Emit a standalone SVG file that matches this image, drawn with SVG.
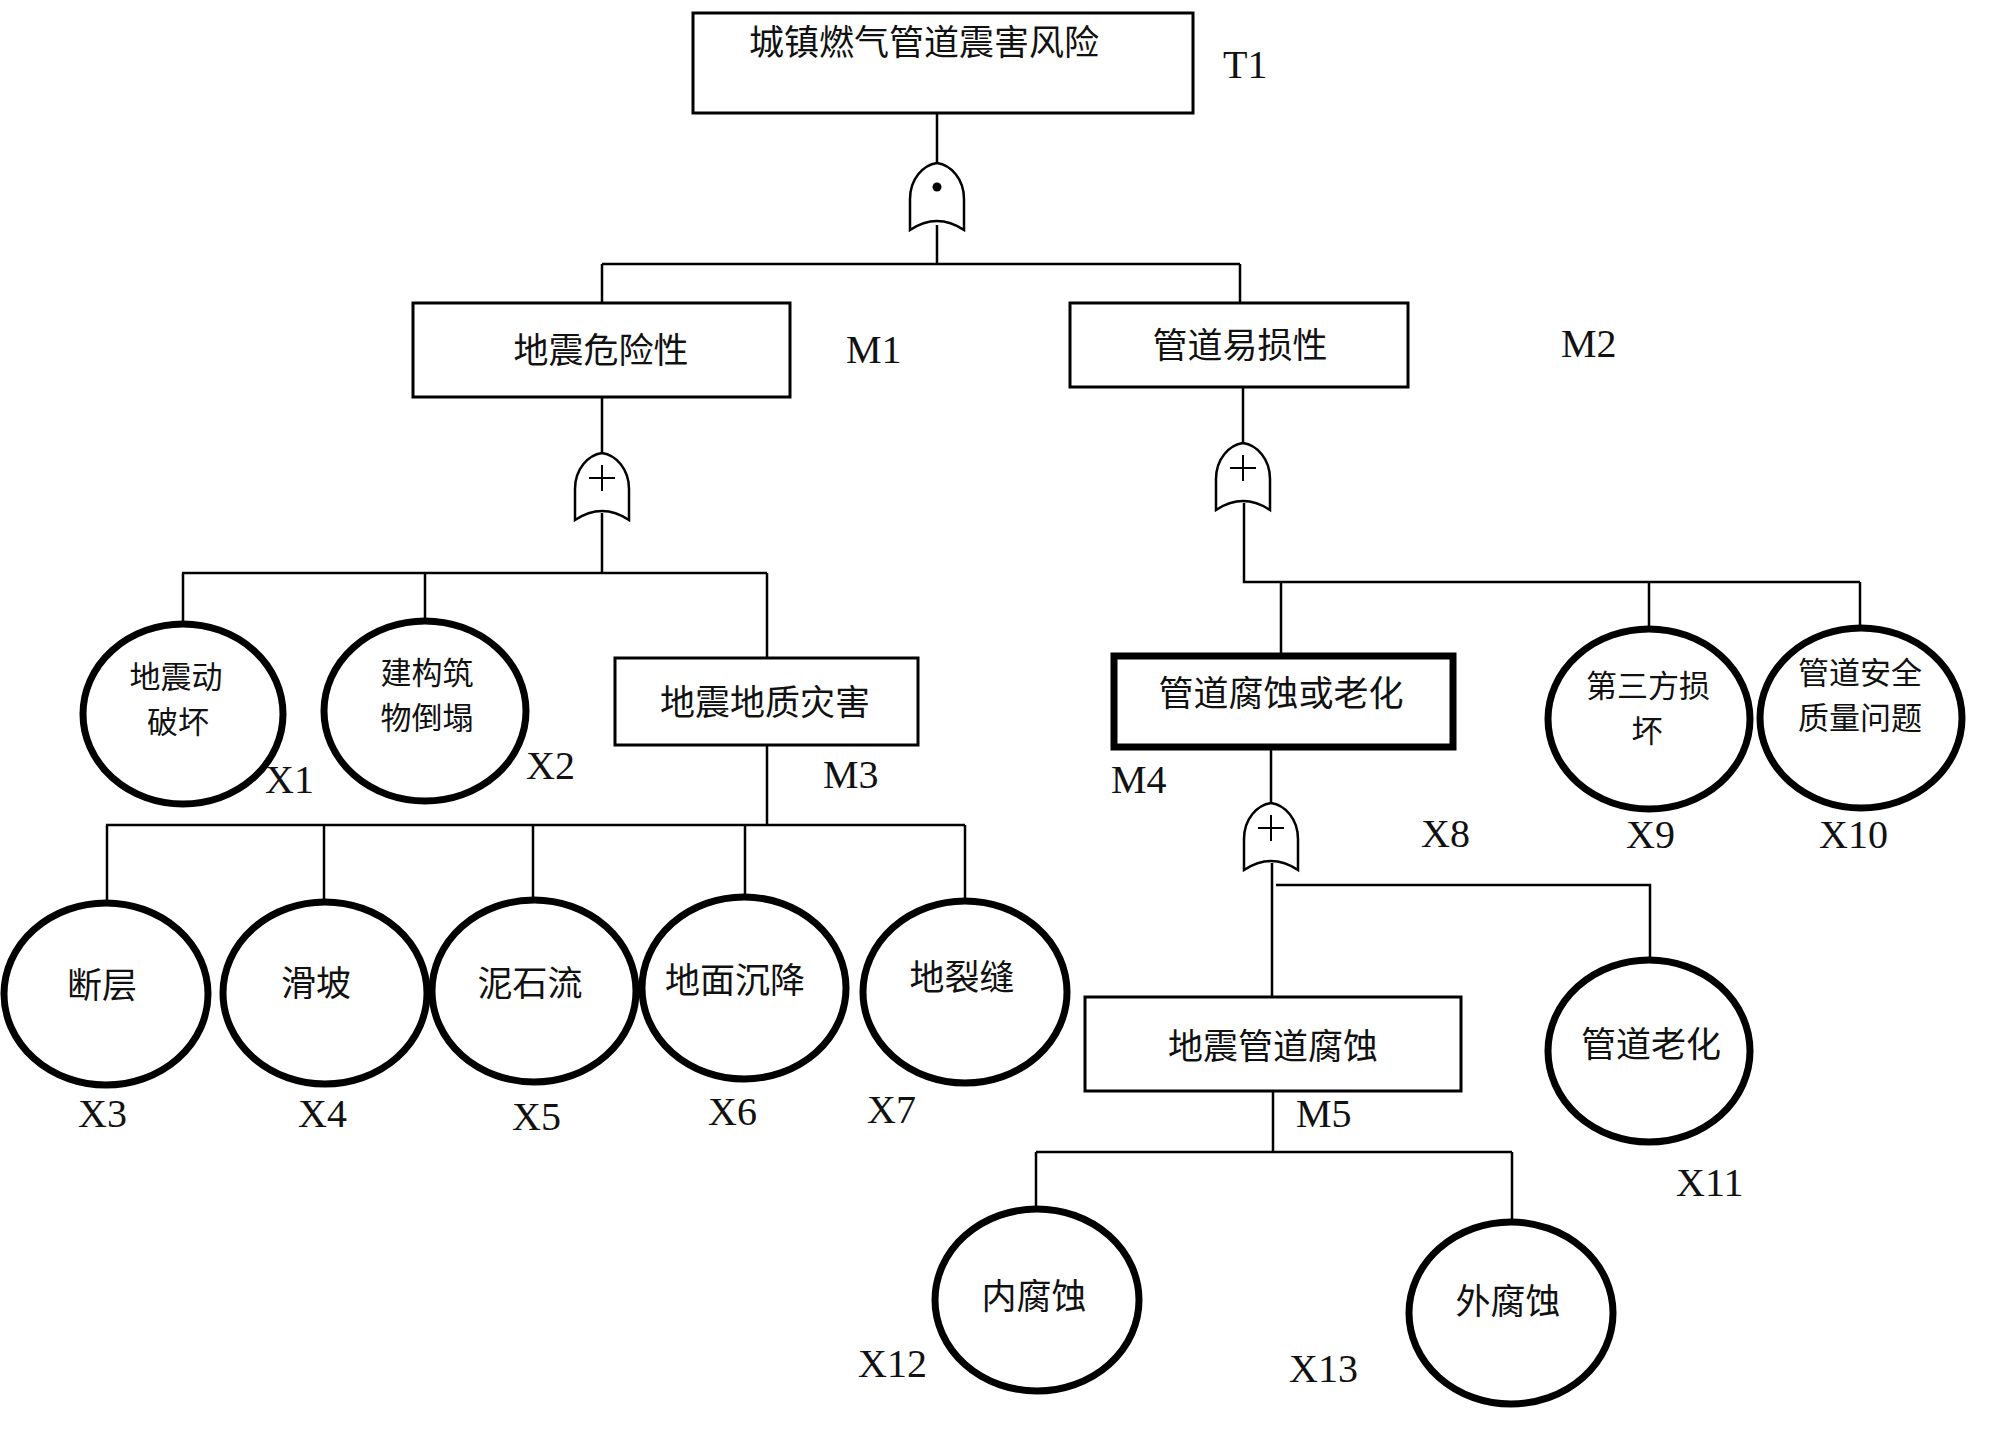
<svg xmlns="http://www.w3.org/2000/svg" width="2000" height="1429" viewBox="0 0 2000 1429">
<style>
.box{fill:#fff;stroke:#000;stroke-width:3}
.thick{fill:#fff;stroke:#000;stroke-width:7}
.ev{fill:#fff;stroke:#000;stroke-width:7}
.ln{fill:none;stroke:#000;stroke-width:2.5}
.gate{fill:#fff;stroke:#000;stroke-width:2.5}
.cn{font-family:"Noto Sans CJK SC","Noto Sans CJK JP",sans-serif;font-size:35px;text-anchor:middle;fill:#111}
.cn2{font-family:"Noto Sans CJK SC","Noto Sans CJK JP",sans-serif;font-size:31px;text-anchor:middle;fill:#111}
.lb{font-family:"Liberation Serif","Times New Roman",serif;font-size:40px;fill:#111}
</style>
<defs>
<path id="g" d="M -27,67 L -27,36 C -27,16 -14,2 0,0 C 14,2 27,16 27,36 L 27,67 Q 0,49 -27,67 Z"/>
<g id="plus"><path d="M -13,25 H 13 M 0,12 V 38" fill="none" stroke="#000" stroke-width="2"/></g>
</defs>
<rect width="2000" height="1429" fill="#fff"/>
<g id="connectors">
<path class="ln" d="M 937,113 V 163 M 937,225 V 264 M 602,264 H 1240 M 602,264 V 303 M 1240,264 V 303"/>
<path class="ln" d="M 602,397 V 453 M 602,513 V 573 M 182,573 H 767 M 183,573 V 623 M 425,573 V 620 M 767,573 V 658"/>
<path class="ln" d="M 767,745 V 825 M 106,825 H 965 M 107,825 V 903 M 324,825 V 902 M 533,825 V 899 M 745,825 V 896 M 965,825 V 900"/>
<path class="ln" d="M 1243,387 V 443 M 1244,503 V 582 H 1860 M 1281,582 V 655 M 1649,582 V 628 M 1860,582 V 628"/>
<path class="ln" d="M 1271,748 V 803 M 1272,863 V 997 M 1276,885 H 1650 V 960"/>
<path class="ln" d="M 1273,1091 V 1152 M 1036,1152 H 1512 M 1036,1152 V 1210 M 1512,1152 V 1222"/>
</g>
<g id="gate-T1"><use href="#g" class="gate" x="937" y="163"/><circle cx="937" cy="187" r="4.5" fill="#000"/></g>
<g id="gate-M1"><use href="#g" class="gate" x="602" y="453"/><use href="#plus" x="602" y="453"/></g>
<g id="gate-M2"><use href="#g" class="gate" x="1243" y="443"/><use href="#plus" x="1243" y="443"/></g>
<g id="gate-M4"><use href="#g" class="gate" x="1271" y="803"/><use href="#plus" x="1271" y="803"/></g>

<g id="T1"><rect class="box" x="693" y="13" width="500" height="100"/><text class="cn" x="924" y="55">城镇燃气管道震害风险</text><text class="lb" x="1223" y="78">T1</text></g>
<g id="M1"><rect class="box" x="413" y="303" width="377" height="94"/><text class="cn" x="601" y="363">地震危险性</text><text class="lb" x="846" y="363">M1</text></g>
<g id="M2"><rect class="box" x="1070" y="303" width="338" height="84"/><text class="cn" x="1240" y="358">管道易损性</text><text class="lb" x="1561" y="357">M2</text></g>
<g id="X1"><ellipse class="ev" cx="183" cy="714" rx="100" ry="90"/><text class="cn2"><tspan x="176" y="688">地震动</tspan><tspan x="178" y="733">破坏</tspan></text><text class="lb" x="265" y="793">X1</text></g>
<g id="X2"><ellipse class="ev" cx="425" cy="711" rx="101" ry="90"/><text class="cn2"><tspan x="427" y="684">建构筑</tspan><tspan x="427" y="729">物倒塌</tspan></text><text class="lb" x="526" y="779">X2</text></g>
<g id="M3"><rect class="box" x="615" y="658" width="303" height="87"/><text class="cn" x="765" y="715">地震地质灾害</text><text class="lb" x="823" y="788">M3</text></g>
<g id="X3"><ellipse class="ev" cx="106" cy="994" rx="102" ry="91"/><text class="cn" x="102" y="998">断层</text><text class="lb" x="78" y="1127">X3</text></g>
<g id="X4"><ellipse class="ev" cx="325" cy="993" rx="102" ry="91"/><text class="cn" x="316" y="996">滑坡</text><text class="lb" x="298" y="1127">X4</text></g>
<g id="X5"><ellipse class="ev" cx="534" cy="991" rx="102" ry="91"/><text class="cn" x="530" y="996">泥石流</text><text class="lb" x="512" y="1130">X5</text></g>
<g id="X6"><ellipse class="ev" cx="744" cy="988" rx="102" ry="91"/><text class="cn" x="735" y="993">地面沉降</text><text class="lb" x="708" y="1125">X6</text></g>
<g id="X7"><ellipse class="ev" cx="965" cy="992" rx="102" ry="91"/><text class="cn" x="962" y="990">地裂缝</text><text class="lb" x="867" y="1123">X7</text></g>
<g id="M4"><rect class="thick" x="1114" y="656" width="339" height="91"/><text class="cn" x="1281" y="706">管道腐蚀或老化</text><text class="lb" x="1111" y="793">M4</text></g>
<g id="X8"><text class="lb" x="1421" y="847">X8</text></g>
<g id="X9"><ellipse class="ev" cx="1649" cy="719" rx="101" ry="90"/><text class="cn2"><tspan x="1648" y="697">第三方损</tspan><tspan x="1647" y="742">坏</tspan></text><text class="lb" x="1626" y="848">X9</text></g>
<g id="X10"><ellipse class="ev" cx="1861" cy="718" rx="101" ry="90"/><text class="cn2"><tspan x="1860" y="684">管道安全</tspan><tspan x="1860" y="729">质量问题</tspan></text><text class="lb" x="1819" y="848">X10</text></g>
<g id="M5"><rect class="box" x="1085" y="997" width="376" height="94"/><text class="cn" x="1273" y="1059">地震管道腐蚀</text><text class="lb" x="1296" y="1127">M5</text></g>
<g id="X11"><ellipse class="ev" cx="1649" cy="1051" rx="101" ry="91"/><text class="cn" x="1651" y="1057">管道老化</text><text class="lb" x="1676" y="1196">X11</text></g>
<g id="X12"><ellipse class="ev" cx="1037" cy="1300" rx="102" ry="91"/><text class="cn" x="1034" y="1309">内腐蚀</text><text class="lb" x="858" y="1377">X12</text></g>
<g id="X13"><ellipse class="ev" cx="1511" cy="1313" rx="102" ry="91"/><text class="cn" x="1508" y="1314">外腐蚀</text><text class="lb" x="1289" y="1382">X13</text></g>
</svg>
